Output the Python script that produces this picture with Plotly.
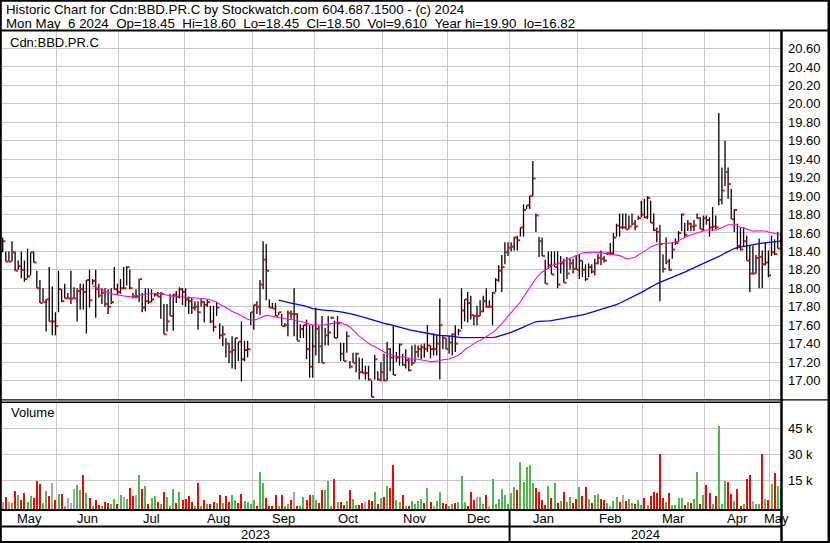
import numpy as np
import pandas as pd
import plotly.graph_objects as go

# ---------------- data ----------------
TITLE_LINE1 = "Historic Chart for Cdn:BBD.PR.C by Stockwatch.com 604.687.1500 - (c) 2024"
SYMBOL = "Cdn:BBD.PR.C"
LAST_DATE = "Mon May  6 2024"
LAST_OPEN = 18.45

high = [
    18.55, 18.40, 18.40, 18.51, 18.40, 18.30, 18.40, 18.30, 18.43, 18.39,
    18.40, 18.19, 18.09, 18.00, 17.88, 18.23, 18.02, 17.74, 18.19, 17.99,
    18.05, 17.95, 18.19, 18.01, 18.00, 18.05, 18.05, 18.09, 18.20, 18.10,
    18.20, 18.05, 18.00, 18.00, 17.99, 18.00, 18.23, 18.05, 18.10, 18.23,
    18.24, 18.20, 17.95, 17.99, 18.10, 17.95, 18.00, 18.00, 17.99, 17.95,
    17.96, 17.96, 17.83, 17.83, 17.94, 17.94, 17.97, 18.01, 18.00, 18.00,
    17.91, 17.90, 17.86, 17.86, 17.88, 17.86, 17.88, 17.81, 17.81, 17.85,
    17.62, 17.59, 17.46, 17.41, 17.48, 17.46, 17.42, 17.64, 17.43, 17.43,
    17.74, 17.82, 17.86, 18.09, 18.51, 18.48, 17.88, 17.84, 17.84, 17.74,
    17.72, 17.62, 17.76, 17.76, 18.00, 17.73, 17.61, 17.60, 17.66, 17.60,
    17.60, 17.79, 17.59, 17.70, 17.57, 17.70, 17.69, 17.65, 17.70, 17.41,
    17.41, 17.53, 17.21, 17.30, 17.30, 17.25, 17.24, 17.16, 17.16, 17.00,
    17.28, 17.10, 17.20, 17.29, 17.42, 17.35, 17.60, 17.31, 17.40, 17.29,
    17.34, 17.25, 17.38, 17.39, 17.38, 17.39, 17.40, 17.60, 17.38, 17.51,
    17.49, 17.89, 17.49, 17.46, 17.48, 17.51, 17.60, 17.56, 18.00, 17.88,
    17.96, 17.92, 17.71, 17.81, 17.87, 17.92, 18.00, 17.87, 17.96, 18.11,
    18.25, 18.36, 18.50, 18.50, 18.50, 18.56, 18.57, 18.66, 18.91, 18.90,
    19.00, 19.38, 18.81, 18.56, 18.55, 18.31, 18.40, 18.40, 18.40, 18.40,
    18.35, 18.32, 18.34, 18.32, 18.32, 18.36, 18.36, 18.30, 18.26, 18.27,
    18.26, 18.32, 18.37, 18.41, 18.35, 18.39, 18.49, 18.60, 18.70, 18.81,
    18.81, 18.81, 18.79, 18.81, 18.74, 18.79, 18.95, 18.97, 19.00, 18.95,
    18.81, 18.66, 18.69, 18.37, 18.55, 18.32, 18.50, 18.54, 18.62, 18.81,
    18.71, 18.74, 18.71, 18.74, 18.81, 18.77, 18.79, 18.79, 18.77, 18.88,
    18.79, 19.90, 19.31, 19.60, 19.31, 19.08, 18.86, 18.70, 18.66, 18.66,
    18.57, 18.46, 18.46, 18.36, 18.54, 18.41, 18.50, 18.41, 18.57, 18.53,
    18.61, 18.60,
]

low = [
    18.39, 18.29, 18.29, 18.29, 18.19, 18.20, 18.11, 18.07, 18.11, 18.14,
    18.28, 18.00, 17.84, 17.85, 17.53, 17.64, 17.49, 17.49, 17.74, 17.85,
    17.89, 17.89, 17.83, 17.89, 17.64, 17.77, 17.77, 17.51, 17.79, 18.04,
    17.68, 17.90, 17.83, 17.80, 17.72, 17.83, 17.98, 17.93, 17.94, 17.99,
    18.03, 17.99, 17.89, 17.89, 17.85, 17.74, 17.75, 17.83, 17.85, 17.91,
    17.91, 17.67, 17.50, 17.53, 17.70, 17.54, 17.84, 17.89, 17.82, 17.80,
    17.72, 17.72, 17.76, 17.55, 17.80, 17.63, 17.80, 17.62, 17.53, 17.70,
    17.45, 17.37, 17.25, 17.19, 17.13, 17.12, 17.21, 16.99, 17.21, 17.25,
    17.60, 17.55, 17.72, 17.71, 17.99, 17.87, 17.79, 17.78, 17.70, 17.71,
    17.59, 17.58, 17.48, 17.67, 17.48, 17.43, 17.46, 17.46, 17.23, 17.03,
    17.03, 17.27, 17.19, 17.19, 17.38, 17.38, 17.67, 17.46, 17.46, 17.21,
    17.21, 17.30, 17.13, 17.19, 17.09, 17.01, 17.08, 17.01, 17.00, 16.82,
    17.01, 17.00, 16.99, 16.99, 17.00, 17.10, 17.06, 17.20, 17.16, 17.16,
    17.13, 17.10, 17.16, 17.20, 17.25, 17.23, 17.25, 17.31, 17.24, 17.27,
    17.27, 17.01, 17.34, 17.34, 17.29, 17.27, 17.31, 17.49, 17.56, 17.64,
    17.63, 17.66, 17.60, 17.60, 17.70, 17.74, 17.79, 17.79, 17.60, 17.96,
    18.07, 17.96, 18.26, 18.35, 18.40, 18.41, 18.41, 18.56, 18.56, 18.86,
    18.86, 19.00, 18.61, 18.34, 18.35, 18.05, 18.21, 18.15, 18.23, 18.00,
    18.16, 18.06, 18.10, 18.20, 18.16, 18.20, 18.10, 18.12, 18.08, 18.12,
    18.16, 18.14, 18.26, 18.25, 18.28, 18.36, 18.36, 18.37, 18.56, 18.56,
    18.64, 18.64, 18.64, 18.68, 18.63, 18.74, 18.77, 18.76, 18.75, 18.71,
    18.62, 18.50, 17.86, 18.17, 18.26, 18.19, 18.32, 18.47, 18.50, 18.62,
    18.55, 18.62, 18.62, 18.62, 18.75, 18.64, 18.62, 18.69, 18.56, 18.62,
    18.64, 18.90, 18.91, 19.11, 18.97, 18.75, 18.61, 18.42, 18.41, 18.45,
    18.30, 17.96, 18.15, 18.16, 18.00, 18.00, 18.25, 18.12, 18.35, 18.36,
    18.43, 18.45,
]

close = [
    18.51, 18.29, 18.29, 18.39, 18.19, 18.24, 18.20, 18.10, 18.13, 18.39,
    18.28, 18.00, 17.84, 17.85, 17.88, 17.64, 17.64, 17.59, 17.99, 17.86,
    17.89, 17.89, 17.89, 17.89, 17.97, 17.99, 17.96, 18.09, 17.87, 18.08,
    17.99, 17.92, 17.95, 17.83, 17.80, 17.85, 17.99, 17.96, 18.00, 18.00,
    18.23, 18.00, 17.91, 17.91, 18.10, 17.79, 17.86, 17.85, 17.88, 17.93,
    17.91, 17.94, 17.50, 17.64, 17.70, 17.93, 17.91, 17.99, 17.96, 17.88,
    17.86, 17.79, 17.80, 17.74, 17.85, 17.82, 17.85, 17.64, 17.58, 17.79,
    17.49, 17.50, 17.40, 17.31, 17.33, 17.46, 17.42, 17.23, 17.33, 17.34,
    17.74, 17.82, 17.80, 18.04, 18.31, 18.19, 17.79, 17.78, 17.70, 17.74,
    17.59, 17.60, 17.73, 17.72, 17.72, 17.43, 17.56, 17.60, 17.34, 17.15,
    17.37, 17.56, 17.37, 17.19, 17.49, 17.52, 17.68, 17.46, 17.62, 17.29,
    17.21, 17.48, 17.15, 17.19, 17.29, 17.09, 17.08, 17.08, 17.01, 16.82,
    17.23, 17.01, 17.09, 17.00, 17.34, 17.25, 17.06, 17.25, 17.39, 17.17,
    17.22, 17.11, 17.19, 17.31, 17.34, 17.36, 17.34, 17.38, 17.34, 17.34,
    17.40, 17.60, 17.46, 17.34, 17.41, 17.50, 17.40, 17.54, 17.76, 17.88,
    17.84, 17.71, 17.70, 17.70, 17.75, 17.86, 17.80, 17.80, 17.95, 18.09,
    18.19, 18.23, 18.39, 18.44, 18.45, 18.55, 18.52, 18.66, 18.85, 18.90,
    19.00, 19.19, 18.79, 18.51, 18.35, 18.05, 18.25, 18.15, 18.23, 18.04,
    18.27, 18.06, 18.16, 18.27, 18.21, 18.20, 18.30, 18.20, 18.10, 18.23,
    18.18, 18.27, 18.33, 18.32, 18.30, 18.38, 18.38, 18.55, 18.68, 18.66,
    18.66, 18.64, 18.67, 18.70, 18.67, 18.76, 18.80, 18.77, 18.98, 18.71,
    18.63, 18.61, 18.48, 18.21, 18.29, 18.20, 18.42, 18.49, 18.60, 18.80,
    18.58, 18.70, 18.67, 18.68, 18.76, 18.64, 18.76, 18.74, 18.66, 18.67,
    18.66, 18.96, 19.06, 19.26, 19.13, 18.75, 18.85, 18.46, 18.42, 18.51,
    18.30, 18.16, 18.16, 18.33, 18.34, 18.26, 18.28, 18.14, 18.39, 18.37,
    18.43, 18.50,
]

volume = [
    2700, 5400, 2500, 1900, 8800, 6500, 3700, 7700, 2500, 6000,
    4800, 14600, 12900, 1900, 8800, 6000, 13500, 3700, 7100, 7100,
    200, 4800, 1900, 10000, 12300, 9400, 18100, 7700, 4800, 200,
    3700, 800, 200, 2500, 1900, 1300, 4200, 1300, 6500, 5400,
    4200, 10600, 6000, 6500, 18100, 10000, 11700, 1300, 4800, 6000,
    2500, 1300, 8300, 5400, 100, 10000, 1900, 8300, 3700, 4200,
    6000, 2500, 300, 13500, 100, 3700, 1300, 1300, 2500, 1900,
    6500, 1900, 6000, 2500, 6500, 3700, 1900, 7100, 3100, 2500,
    1300, 3700, 300, 19800, 13500, 4800, 100, 100, 6500, 200,
    6500, 100, 1300, 3700, 8300, 200, 100, 5400, 3700, 6500,
    6500, 3700, 1900, 9400, 9400, 14600, 200, 15800, 2500, 2500,
    800, 3100, 9400, 4200, 800, 800, 1900, 2500, 3700, 3100,
    8300, 1300, 4800, 5400, 11700, 10600, 23800, 3700, 2500, 6500,
    100, 100, 3100, 1300, 3100, 4200, 1900, 10600, 2500, 100,
    3100, 8300, 1900, 1300, 200, 1300, 1900, 2500, 17500, 2500,
    200, 8300, 3700, 5400, 5400, 1300, 6500, 100, 15800, 1300,
    4200, 10000, 6500, 1300, 7700, 11200, 9400, 25600, 14000, 22700,
    23800, 13500, 10600, 8300, 3700, 800, 11700, 4800, 13500, 1900,
    3100, 8300, 2500, 5400, 1900, 4200, 11200, 6000, 11200, 4200,
    1900, 6500, 7100, 4200, 3700, 1900, 200, 3100, 5400, 2500,
    6500, 3100, 4200, 1900, 1300, 3700, 800, 4800, 800, 6000,
    8300, 7700, 30200, 4800, 2500, 7700, 800, 800, 4800, 4800,
    800, 2500, 1900, 4200, 19800, 1300, 6500, 12300, 7700, 1300,
    6000, 46300, 1300, 14600, 14000, 7100, 3100, 10000, 100, 1300,
    15800, 18100, 3100, 1300, 1300, 30200, 4200, 3700, 12900, 19200,
    11700, 9610,
]

month_names = ["May", "Jun", "Jul", "Aug", "Sep", "Oct", "Nov", "Dec",
               "Jan", "Feb", "Mar", "Apr", "May"]
month_starts = [0, 18, 38, 59, 81, 101, 123, 144, 164, 186, 207, 227, 248]
year_labels = ["2023", "2024"]
year_starts = [0, 164]

price_ticks = [17.00, 17.20, 17.40, 17.60, 17.80, 18.00, 18.20, 18.40, 18.60,
               18.80, 19.00, 19.20, 19.40, 19.60, 19.80, 20.00, 20.20, 20.40, 20.60]
vol_ticks = [15000, 30000, 45000]
vol_tick_text = ["15 k", "30 k", "45 k"]
MA_SHORT, MA_LONG = 30, 90

# ---------------- styling / layout constants ----------------
W, H = 830, 543
FONT = "Liberation Sans, Arial, Helvetica, sans-serif"
GRID = "#c8c8c8"
GREEN, RED, GRAY = "#4cba4c", "#ff0000", "#a8a8a8"
X_MIN, X_MAX = -0.23, 251.06
P_MIN, P_MAX = 16.81, 20.79
VOL_MIN, VOL_MAX = -1560, 59600


def fx(px):
    return px / W


def fy(py):
    return 1 - py / H


n = len(close)
idx = list(range(n))

hl_x, hl_y, cl_x, cl_y = [], [], [], []
for i in idx:
    hl_x += [i, i, None]
    hl_y += [low[i], high[i], None]
    cl_x += [i + 0.1, i + 0.9, None]
    cl_y += [close[i], close[i], None]

s = pd.Series(close, dtype=float)
ma_short = s.rolling(MA_SHORT).mean()
ma_long = s.rolling(MA_LONG).mean()

chg = np.diff(np.array(close, dtype=float), prepend=np.nan)
vol_colors = [GREEN if d > 1e-9 else (RED if d < -1e-9 else GRAY) for d in chg]

fig = go.Figure()
fig.add_trace(go.Scatter(x=hl_x, y=hl_y, mode="lines",
                         line=dict(color="black", width=1.3),
                         hoverinfo="skip", xaxis="x", yaxis="y"))
fig.add_trace(go.Scatter(x=idx, y=ma_long, mode="lines",
                         line=dict(color="#0000ff", width=1.3),
                         hoverinfo="skip", xaxis="x", yaxis="y"))
fig.add_trace(go.Scatter(x=idx, y=ma_short, mode="lines",
                         line=dict(color="#ff00ff", width=1.1),
                         hoverinfo="skip", xaxis="x", yaxis="y"))
fig.add_trace(go.Scatter(x=cl_x, y=cl_y, mode="lines",
                         line=dict(color=RED, width=2),
                         hoverinfo="skip", xaxis="x", yaxis="y"))
fig.add_trace(go.Bar(x=idx, y=[v - VOL_MIN for v in volume], base=VOL_MIN,
                     marker=dict(color=vol_colors, line=dict(width=0)),
                     width=0.65, hoverinfo="skip", xaxis="x2", yaxis="y2"))

grid_x = [m - 0.5 for m in month_starts[1:]]
xcommon = dict(range=[X_MIN, X_MAX], showticklabels=False, showgrid=False,
               zeroline=False, ticks="", tickmode="array", tickvals=[],
               showline=False,
               minor=dict(tickmode="array", tickvals=grid_x, showgrid=True,
                          gridcolor=GRID, gridwidth=1, ticks=""))

fig.update_layout(
    width=W, height=H, margin=dict(l=0, r=0, t=0, b=0),
    paper_bgcolor="white", plot_bgcolor="white", showlegend=False,
    font=dict(family=FONT, size=13, color="black"),
    bargap=0,
    xaxis=dict(domain=[fx(2), fx(781)], anchor="y", **xcommon),
    xaxis2=dict(domain=[fx(2), fx(781)], anchor="y2", matches="x", **xcommon),
    yaxis=dict(domain=[fy(398), fy(31)], range=[P_MIN, P_MAX], anchor="x",
               side="right", tickmode="array", tickvals=price_ticks,
               ticktext=[f"{v:.2f}" for v in price_ticks],
               showgrid=True, gridcolor=GRID, gridwidth=1, zeroline=False,
               ticks="", ticklabelstandoff=6,
               tickfont=dict(family=FONT, size=13, color="black")),
    yaxis2=dict(domain=[fy(509), fy(403)], range=[VOL_MIN, VOL_MAX], anchor="x2",
                side="right", tickmode="array", tickvals=vol_ticks,
                ticktext=vol_tick_text, showgrid=True, gridcolor=GRID,
                gridwidth=1, zeroline=False, ticks="", ticklabelstandoff=6,
                tickfont=dict(family=FONT, size=13, color="black")),
)

# ---------------- text ----------------
nb = "\u00a0"
line2 = (LAST_DATE.replace(" ", nb) + nb * 2 +
         f"Op={LAST_OPEN:.2f}" + nb * 2 + f"Hi={high[-1]:.2f}" + nb * 2 +
         f"Lo={low[-1]:.2f}" + nb * 2 + f"Cl={close[-1]:.2f}" + nb * 2 +
         f"Vol={volume[-1]:,}" + nb * 2 + f"Year{nb}hi={max(high):.2f}" + nb * 2 +
         f"lo={min(low):.2f}")

HDR = 13.3
ann = []
ann.append(dict(text=TITLE_LINE1, x=fx(4), y=fy(10), xref="paper", yref="paper",
                xanchor="left", yanchor="middle", showarrow=False,
                font=dict(family=FONT, size=HDR, color="black")))
ann.append(dict(text=line2, x=fx(4), y=fy(23.5), xref="paper", yref="paper",
                xanchor="left", yanchor="middle", showarrow=False,
                font=dict(family=FONT, size=HDR, color="black")))
ann.append(dict(text=SYMBOL, x=fx(8), y=fy(42), xref="paper", yref="paper",
                xanchor="left", yanchor="middle", showarrow=False,
                font=dict(family=FONT, size=13, color="black")))
ann.append(dict(text="Volume", x=fx(9), y=fy(413), xref="paper", yref="paper",
                xanchor="left", yanchor="middle", showarrow=False,
                font=dict(family=FONT, size=13, color="black")))

bounds = month_starts + [n]
for k, name in enumerate(month_names):
    mid = (bounds[k] + bounds[k + 1]) / 2 - 0.5
    ann.append(dict(text=name, x=mid, y=fy(518.5), xref="x", yref="paper",
                    xanchor="center", yanchor="middle", showarrow=False,
                    font=dict(family=FONT, size=13, color="black")))
ybounds = year_starts + [n]
for k, name in enumerate(year_labels):
    mid = (ybounds[k] + ybounds[k + 1]) / 2 - 0.5
    ann.append(dict(text=name, x=mid, y=fy(534.5), xref="x", yref="paper",
                    xanchor="center", yanchor="middle", showarrow=False,
                    font=dict(family=FONT, size=13, color="black")))
fig.update_layout(annotations=ann)

# ---------------- frame lines ----------------
def hline(py, x0, x1, w):
    return dict(type="line", xref="paper", yref="paper", x0=fx(x0), x1=fx(x1),
                y0=fy(py), y1=fy(py), line=dict(color="black", width=w))


def vline(px, y0, y1, w):
    return dict(type="line", xref="paper", yref="paper", x0=fx(px), x1=fx(px),
                y0=fy(y0), y1=fy(y1), line=dict(color="black", width=w))


shapes = [
    vline(0.8, 0, 543, 2),
    vline(828.8, 0, 543, 2.5),
    hline(0.8, 0, 830, 2),
    hline(542, 0, 830, 2),
    hline(30.5, 0, 830, 2),
    vline(781.5, 30, 543, 2.5),
    hline(399.8, 0, 830, 1.2),
    hline(402.2, 0, 781, 1.4),
    hline(510, 0, 781, 2),
    hline(526.5, 0, 781, 2),
    dict(type="line", xref="x", yref="paper", x0=year_starts[1] - 0.5,
         x1=year_starts[1] - 0.5, y0=fy(510), y1=fy(542),
         line=dict(color="black", width=2)),
]
fig.update_layout(shapes=shapes)

fig.write_html(
    "out.html",
    config={"displayModeBar": False},
    post_script="document.body.style.margin='0';document.body.style.padding='0';"
                "document.body.style.overflow='hidden';",
)
